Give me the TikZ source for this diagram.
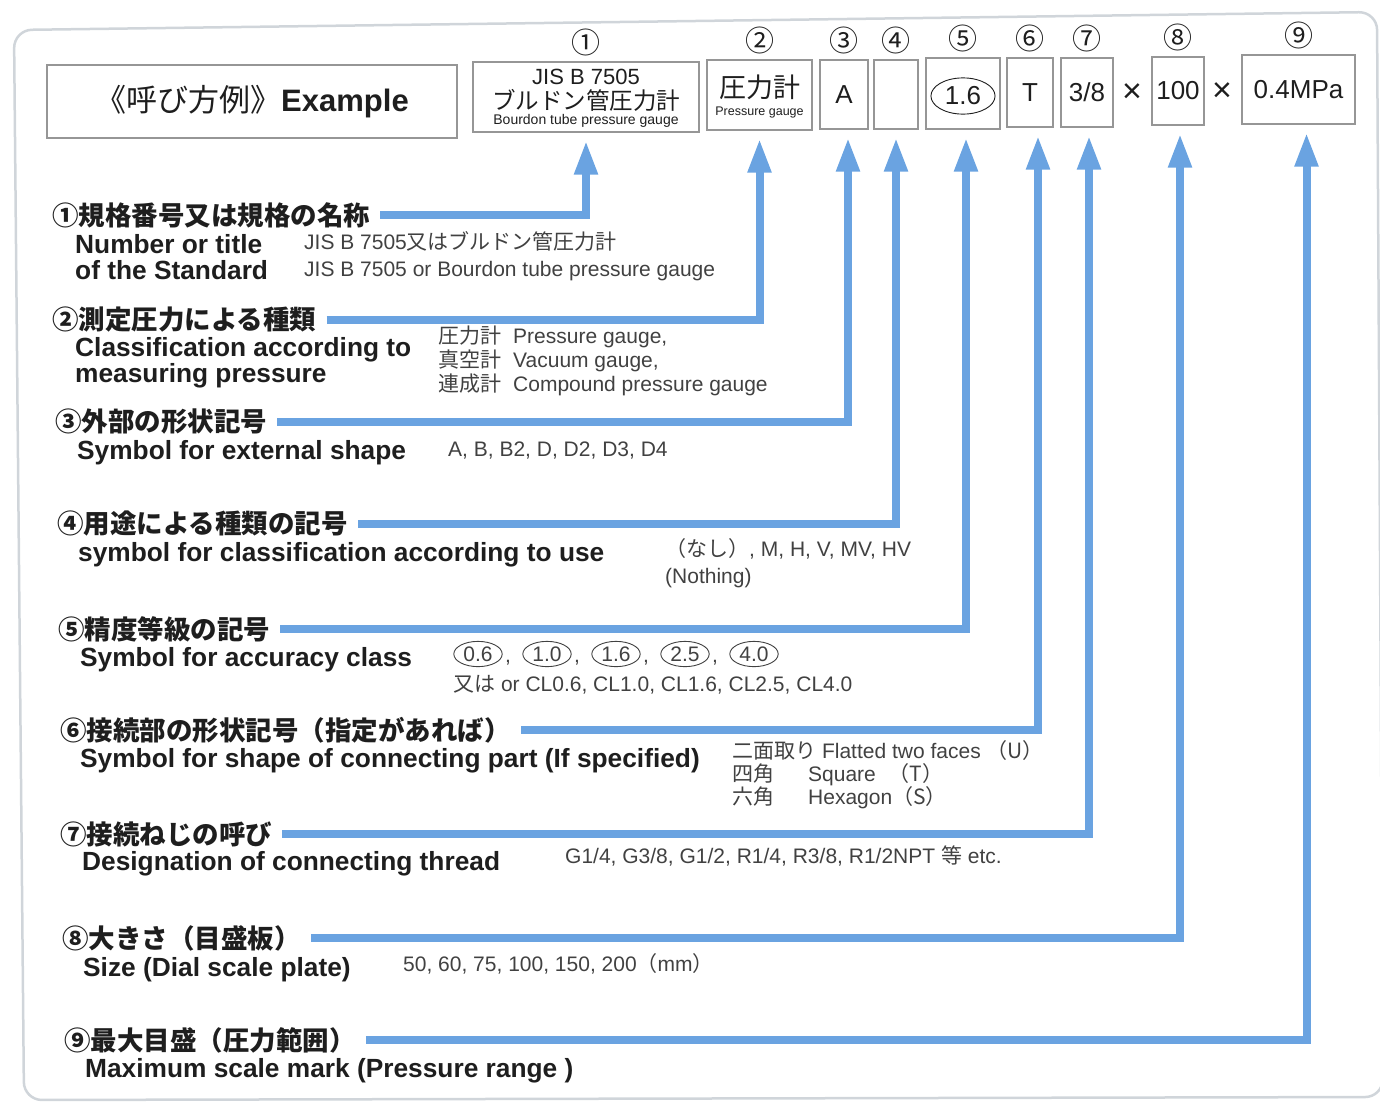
\documentclass[tikz,border=0pt]{standalone}
\usepackage{fontspec}
\setmainfont{Liberation Sans}
\newfontfamily\jp{Noto Sans CJK JP}
\usetikzlibrary{arrows.meta,positioning,shapes.geometric}

\definecolor{leadblue}{RGB}{106,163,225}
\definecolor{framegray}{RGB}{208,213,218}
\definecolor{boxgray}{RGB}{150,150,150}
\definecolor{ink}{RGB}{30,30,30}
\definecolor{descgray}{RGB}{65,65,65}
\newcommand{\setfs}[2]{\fontsize{#1}{#2}\selectfont}

\begin{document}
\begin{tikzpicture}[x=1pt,y=-1pt,
    >={Triangle[width=22pt,length=34pt]},
    slot/.style={draw=boxgray,line width=1.3pt,inner sep=0pt,text=ink},
    num/.style={font=\jp\setfs{29}{29},text=ink,inner sep=0pt},
    head/.style={anchor=west,font=\jp\bfseries\setfs{26.5}{26.5},text=ink,inner sep=0pt},
    eng/.style={anchor=base west,font=\bfseries\setfs{26.3}{26.3},text=ink,inner sep=0pt},
    desc/.style={anchor=base west,font=\setfs{21}{22.6},text=descgray,inner sep=0pt},
    ring/.style={ellipse,draw=descgray,line width=0.9pt,inner xsep=2.5pt,inner ysep=1.5pt,font=\setfs{21}{21},text=descgray},
    lead/.style={->,draw=leadblue,line width=8pt,shorten <=10pt}]
    \useasboundingbox (0,0) rectangle (1380,1103);
    \draw[framegray,line width=2.5pt,rounded corners=18pt] (14,30) -- (1377,12) -- (1383,1097) -- (24,1100) -- cycle;

    % example row
    \node[slot,minimum width=410pt,minimum height=73pt,font=\setfs{31}{31}] (b0) at (252,101.5) {{\jp 《呼び方例》}\textbf{Example}};
    \node[slot,minimum width=226pt,minimum height=70pt] (b1) at (586,97) {};
    \node[inner sep=0pt,text=ink,font=\setfs{22}{22}] (b1a) at (586,77) {JIS B 7505};
    \node[inner sep=0pt,text=ink,font=\jp\setfs{23.5}{23.5}] (b1b) at (586,100) {ブルドン管圧力計};
    \node[inner sep=0pt,text=ink,font=\setfs{14}{14}] (b1c) at (586,121) {Bourdon tube pressure gauge};
    \node[slot,minimum width=105pt,minimum height=70pt] (b2) at (759.5,95) {};
    \node[inner sep=0pt,text=ink,font=\jp\setfs{27}{27}] (b2a) at (759.5,87) {圧力計};
    \node[inner sep=0pt,text=ink,font=\setfs{12.5}{12.5}] (b2b) at (759.5,112) {Pressure gauge};
    \node[slot,minimum width=48pt,minimum height=69pt,font=\setfs{26}{26}] (b3) at (844,94.5) {A};
    \node[slot,minimum width=44pt,minimum height=69pt] (b4) at (896,94.5) {};
    \node[slot,minimum width=74pt,minimum height=71pt] (b5) at (963,93.5) {};
    \node[ring,draw=ink,text=ink,inner xsep=4.6pt,inner ysep=3.6pt,font=\setfs{26}{26}] (b5a) at (963,96) {1.6};
    \node[slot,minimum width=46pt,minimum height=69pt,font=\setfs{26}{26}] (b6) at (1030,92.5) {T};
    \node[slot,minimum width=52pt,minimum height=69pt,font=\setfs{26}{26}] (b7) at (1087,92.5) {3/8};
    \node[inner sep=0pt,text=ink,font=\setfs{34}{34}] (x1) at (1132,93) {×};
    \node[slot,minimum width=52pt,minimum height=68pt,font=\setfs{26}{26}] (b8) at (1178,91) {100};
    \node[inner sep=0pt,text=ink,font=\setfs{34}{34}] (x2) at (1222,92) {×};
    \node[slot,minimum width=113pt,minimum height=69pt,font=\setfs{26}{26}] (b9) at (1298.5,89.5) {0.4MPa};
    \foreach \i/\c in {1/①,2/②,3/③,4/④,5/⑤,6/⑥,7/⑦,8/⑧,9/⑨}
        \node[num,above=5pt of b\i] (n\i) {\c};

    % items
    \node[head] (h1) at (52,215) {①規格番号又は規格の名称};
    \node[eng] (e1a) at (75,253) {Number or title};
    \node[eng] (e1b) at (75,279) {of the Standard};
    \node[desc] (d1a) at (304,249) {JIS B 7505{\jp 又はブルドン管圧力計}};
    \node[desc] (d1b) at (304,276) {JIS B 7505 or Bourdon tube pressure gauge};

    \node[head] (h2) at (52,320) {②測定圧力による種類};
    \node[eng] (e2a) at (75,356) {Classification according to};
    \node[eng] (e2b) at (75,382) {measuring pressure};
    \node[desc] (d2) at (438,343) {\begin{tabular}[t]{@{}l@{\hspace{12pt}}l@{}}
        {\jp 圧力計} & Pressure gauge,\\
        {\jp 真空計} & Vacuum gauge,\\
        {\jp 連成計} & Compound pressure gauge
    \end{tabular}};

    \node[head] (h3) at (55,422) {③外部の形状記号};
    \node[eng] (e3) at (77,459) {Symbol for external shape};
    \node[desc] (d3) at (448,456) {A, B, B2, D, D2, D3, D4};

    \node[head] (h4) at (57,524) {④用途による種類の記号};
    \node[eng] (e4) at (78,561) {symbol for classification according to use};
    \node[desc] (d4a) at (665,556) {{\jp （なし）}, M, H, V, MV, HV};
    \node[desc] (d4b) at (665,583) {(Nothing)};

    \node[head] (h5) at (58,629) {⑤精度等級の記号};
    \node[eng] (e5) at (80,666) {Symbol for accuracy class};
    \foreach \v [count=\k] in {0.6,1.0,1.6,2.5,4.0}
        \node[ring] (r\k) at ({409+69*\k},654) {\v};
    \foreach \k in {1,...,4}
        \node[desc,anchor=base] (k\k) at ({409+69*\k+30},662) {,};
    \node[desc] (d5) at (453,691) {{\jp 又は} or CL0.6, CL1.0, CL1.6, CL2.5, CL4.0};

    \node[head] (h6) at (60,730) {⑥接続部の形状記号（指定があれば）};
    \node[eng] (e6) at (80,767) {Symbol for shape of connecting part (If specified)};
    \node[desc] (d6a) at (732,758) {{\jp 二面取り} Flatted two faces {\jp （U）}};
    \node[desc] (d6b) at (732,781) {\makebox[76pt][l]{\jp 四角}Square\hspace{13pt}{\jp （T）}};
    \node[desc] (d6c) at (732,804) {\makebox[76pt][l]{\jp 六角}Hexagon{\jp （S）}};

    \node[head] (h7) at (60,834) {⑦接続ねじの呼び};
    \node[eng] (e7) at (82,870) {Designation of connecting thread};
    \node[desc] (d7) at (565,863) {G1/4, G3/8, G1/2, R1/4, R3/8, R1/2NPT {\jp 等} etc.};

    \node[head] (h8) at (62,938) {⑧大きさ（目盛板）};
    \node[eng] (e8) at (83,976) {Size (Dial scale plate)};
    \node[desc] (d8) at (403,971) {50, 60, 75, 100, 150, 200{\jp （}mm{\jp ）}};

    \node[head] (h9) at (64,1040) {⑨最大目盛（圧力範囲）};
    \node[eng] (e9) at (85,1077) {Maximum scale mark (Pressure range )};

    % leaders
    \foreach \i/\dx in {1/0,2/0,3/4,4/0,5/3,6/8,7/2,8/2,9/8}
        \coordinate (t\i) at ([xshift=\dx pt,yshift=-8pt]b\i.south);
    \foreach \i in {1,...,9}
        \draw[lead] (h\i.east) -| (t\i);
\end{tikzpicture}
\end{document}
